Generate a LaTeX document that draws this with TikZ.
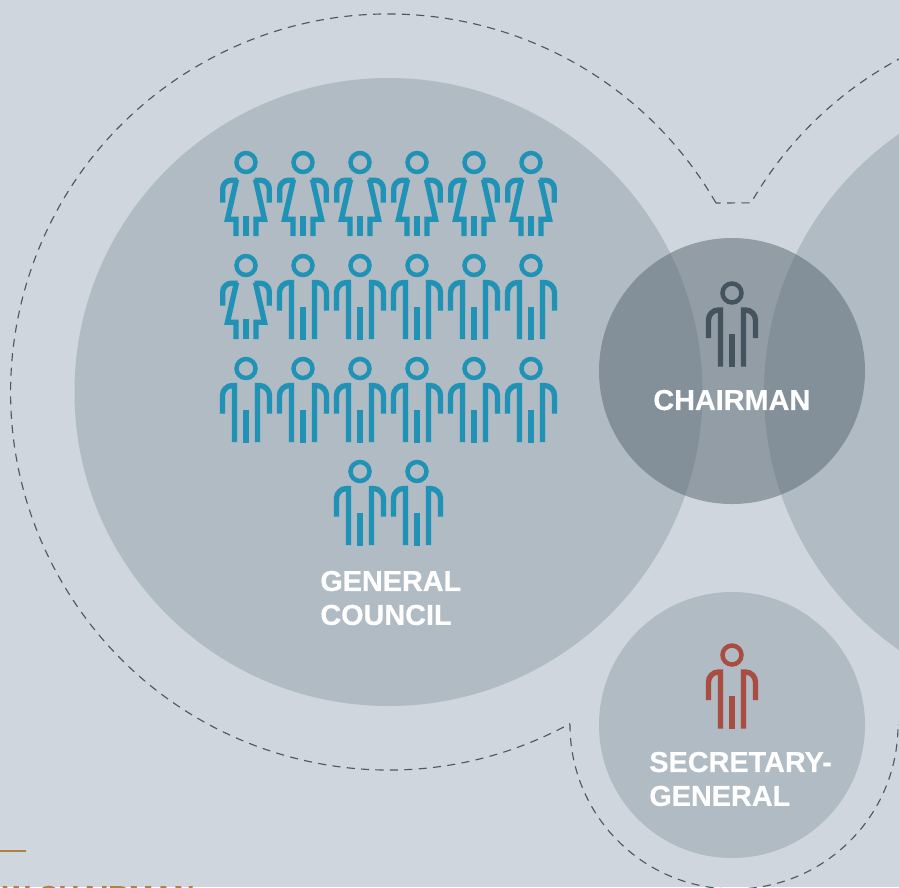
\documentclass[tikz,border=0pt]{standalone}
\usepackage{fontspec}
\setmainfont[BoldFeatures={FakeBold=0.5}]{Liberation Sans}
\definecolor{paneBg}{HTML}{CFD6DD}
\definecolor{paneCircle}{HTML}{B1BBC3}
\definecolor{paneDark}{HTML}{5C6B75}
\definecolor{paneDash}{HTML}{4A5A64}
\definecolor{iconBlue}{HTML}{1F92B6}
\definecolor{iconSlate}{HTML}{44545F}
\definecolor{iconRed}{HTML}{A94D43}
\definecolor{paneGold}{HTML}{AE8240}
\tikzset{
    limb/.style={line width=3.05pt},
    title/.style={text=white, font=\bfseries\fontsize{16.4}{19.3}\selectfont, inner sep=0pt, align=left},
    head/.pic={\draw[line width=2.55pt] (0,0) circle (9.5);},
    woman/.pic={
        \pic {head};
        \draw[limb] (0,53.7) -- (0,73.7);
        \foreach \sx in {-1,1} {
            \begin{scope}[xscale=\sx]
                \draw[limb] (23.3,40) -- (23.3,26.5) arc[start angle=0, end angle=-90, radius=8.8] -- (8.5,17.7);
                \draw[limb] (9.5,17) -- (18.5,56.7) -- (10,56.7) -- (10,73.7);
            \end{scope}
        }
    },
    man/.pic={
        \pic {head};
        \draw[limb] (0,41) -- (0,74);
        \foreach \sx in {-1,1} {
            \begin{scope}[xscale=\sx]
                \draw[limb] (23.5,45) -- (23.5,27) arc[start angle=0, end angle=-90, radius=10] -- (11.5,17) -- (11.5,73.5);
            \end{scope}
        }
    }
}
\begin{document}
\begin{tikzpicture}[x=0.02cm, y=-0.02cm]
        \useasboundingbox (0,0) rectangle (899,887);
        \clip (0,0) rectangle (899,887);
        \fill[paneBg] (0,0) rectangle (899,887);

        \coordinate (council) at (388.5,392);
        \coordinate (board) at (1078,392);
        \coordinate (chair) at (732,371);
        \coordinate (secretary) at (732,725);

        \fill[paneCircle] (council) circle (314);
        \fill[paneCircle] (board) circle (314);
        \fill[paneCircle] (secretary) circle (133);
        \fill[paneDark, opacity=0.53] (chair) circle (133);

        % outline round all the circles
        \draw[paneDash, line width=0.65pt, dash pattern=on 4.6pt off 3.6pt]
            (716,203) arc[start angle=-30, end angle=-298.6, radius=378]
            -- (570,725) arc[start angle=180, end angle=0, radius=164]
            -- (898,724) arc[start angle=118.5, end angle=-150, radius=378]
            -- cycle;

        % general council
        \foreach \col in {0,...,5}
            \pic[color=iconBlue] at (246+57*\col,162.5) {woman};
        \pic[color=iconBlue] at (246,265.5) {woman};
        \foreach \col in {1,...,5}
            \pic[color=iconBlue] at (246+57*\col,265.5) {man};
        \foreach \col in {0,...,5}
            \pic[color=iconBlue] at (246+57*\col,368.5) {man};
        \foreach \col in {2,3}
            \pic[color=iconBlue] at (246+57*\col,471.5) {man};

        \pic[color=iconSlate] at (732,293) {man};
        \pic[color=iconRed] at (732,655) {man};

        \node[title, anchor=north west] (councilText) at (320,570.5) {GENERAL\\COUNCIL};
        \node[title, anchor=north west] (chairText) at (653,389.5) {CHAIRMAN};
        \node[title, anchor=north west] (secretaryText) at (649,751.5) {SECRETARY-\\GENERAL};

        \draw[paneGold, line width=0.8pt] (0,851) -- (26,851);
        \node[title, text=paneGold, anchor=base east] (goldText) at (195,906) {W CHAIRMAN};
    \end{tikzpicture}
\end{document}
